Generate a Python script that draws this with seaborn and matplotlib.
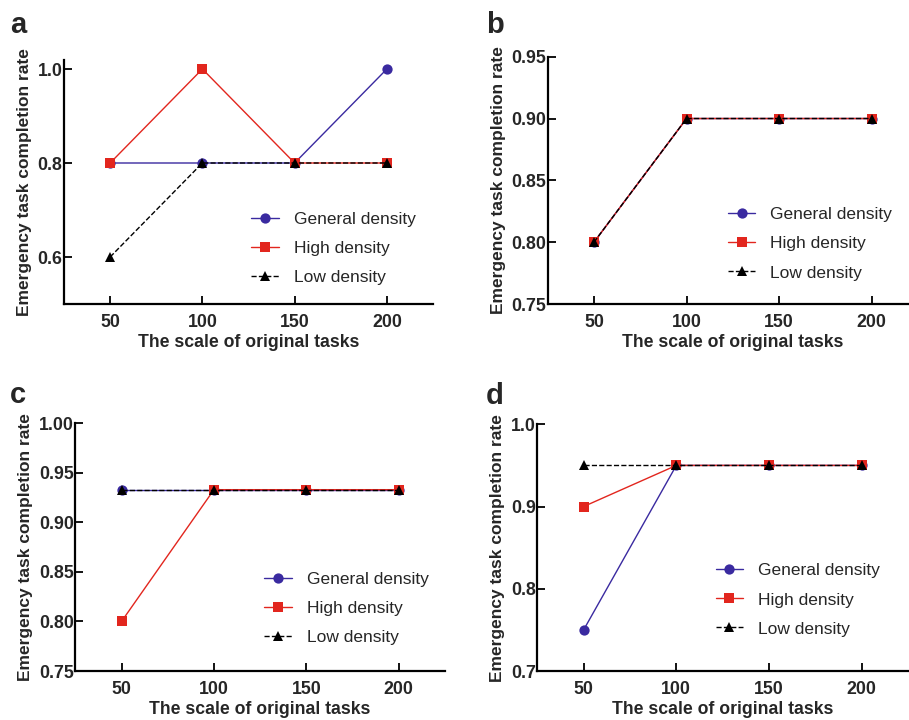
import matplotlib
matplotlib.use("Agg")
import matplotlib.pyplot as plt
import seaborn as sns
import pandas as pd

sns.set_theme(style="ticks")
plt.rcParams['font.family'] = ['Liberation Sans', 'DejaVu Sans']

# ---------------- data ----------------
tasks = [50, 100, 150, 200]
series_names = ["General density", "High density", "Low density"]

a_general = [0.8, 0.8, 0.8, 1.0]
a_high = [0.8, 1.0, 0.8, 0.8]
a_low = [0.6, 0.8, 0.8, 0.8]

b_general = [0.8, 0.9, 0.9, 0.9]
b_high = [0.8, 0.9, 0.9, 0.9]
b_low = [0.8, 0.9, 0.9, 0.9]

c_general = [0.933, 0.933, 0.933, 0.933]
c_high = [0.8, 0.933, 0.933, 0.933]
c_low = [0.933, 0.933, 0.933, 0.933]

d_general = [0.75, 0.95, 0.95, 0.95]
d_high = [0.9, 0.95, 0.95, 0.95]
d_low = [0.95, 0.95, 0.95, 0.95]

panel_letters = ["a", "b", "c", "d"]
yticks_a = [0.6, 0.8, 1.0]
yticks_b = [0.75, 0.80, 0.85, 0.90, 0.95]
yticks_c = [0.75, 0.80, 0.85, 0.90, 0.95, 1.00]
yticks_d = [0.7, 0.8, 0.9, 1.0]
xlabel = "The scale of original tasks"
ylabel = "Emergency task completion rate"

# ---------------- styling ----------------
W, H = 909, 720
fig = plt.figure(figsize=(W / 100, H / 100), dpi=100)

colors = ["#3a2aa0", "#e2261e", "#000000"]
markers = ["o", "s", "^"]
msizes = [7.4, 7.4, 6.8]
lstyles = ["-", "-", "--"]


def px_axes(left, right, top, bottom):
    return [left / W, 1 - bottom / H, (right - left) / W, (bottom - top) / H]


panels = [
    dict(pos=px_axes(64, 433, 59.6, 304), ylim=(0.5, 1.02), yticks=yticks_a, fmt="{:.1f}",
         data=[a_general, a_high, a_low], leg=(0.507, 0.228), letter_xy=(10, 33)),
    dict(pos=px_axes(547.7, 918, 56.7, 304), ylim=(0.75, 0.95), yticks=yticks_b, fmt="{:.2f}",
         data=[b_general, b_high, b_low], leg=(0.486, 0.243), letter_xy=(486, 33)),
    dict(pos=px_axes(75.3, 445, 423.3, 671), ylim=(0.75, 1.0), yticks=yticks_c, fmt="{:.2f}",
         data=[c_general, c_high, c_low], leg=(0.511, 0.253), letter_xy=(10, 403)),
    dict(pos=px_axes(537.3, 908, 424.3, 671), ylim=(0.7, 1.0), yticks=yticks_d, fmt="{:.1f}",
         data=[d_general, d_high, d_low], leg=(0.481, 0.288), letter_xy=(486, 404)),
]

for letter, p in zip(panel_letters, panels):
    ax = fig.add_axes(p["pos"])
    for name, vals, col, mk, ms, ls in zip(series_names, p["data"], colors, markers, msizes, lstyles):
        df = pd.DataFrame({"x": tasks, "y": vals})
        sns.lineplot(data=df, x="x", y="y", ax=ax, color=col, marker=mk, markersize=ms,
                     linestyle=ls, linewidth=1.0, markeredgewidth=0, label=name,
                     errorbar=None, sort=False, legend=False)
    ax.set_xlim(25, 225)
    ax.set_ylim(*p["ylim"])
    ax.set_xticks(tasks)
    ax.set_xticklabels([str(t) for t in tasks])
    ax.set_yticks(p["yticks"])
    ax.set_yticklabels([p["fmt"].format(v) for v in p["yticks"]])
    for lab in ax.get_xticklabels() + ax.get_yticklabels():
        lab.set_fontweight("bold")
        lab.set_fontsize(12.8)
    ax.tick_params(axis="both", direction="in", length=5.5, width=1.3, color="black")
    ax.tick_params(axis="x", pad=7)
    ax.tick_params(axis="y", pad=1)
    sns.despine(ax=ax)
    for s in ["left", "bottom"]:
        ax.spines[s].set_linewidth(1.6)
        ax.spines[s].set_color("black")
    ax.set_xlabel(xlabel, fontsize=12.7, fontweight="bold", labelpad=2)
    ax.set_ylabel(ylabel, fontsize=12.5, fontweight="bold", labelpad=4)
    ax.set_facecolor("white")
    leg = ax.legend(loc="center left", bbox_to_anchor=p["leg"], frameon=False,
                    fontsize=12.5, handlelength=1.6, handletextpad=0.85,
                    labelspacing=0.8, borderpad=0, borderaxespad=0)
    fig.text(p["letter_xy"][0] / W, 1 - p["letter_xy"][1] / H, letter,
             fontsize=21, fontweight="bold", va="baseline", ha="left")

fig.savefig("out.png", dpi=100, facecolor="white")
